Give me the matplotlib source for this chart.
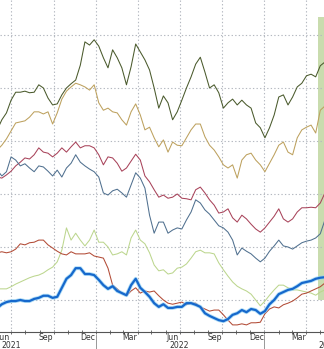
import pandas as pd
import numpy as np
import matplotlib
matplotlib.use("Agg")
import matplotlib.pyplot as plt
import matplotlib.dates as mdates

# datos leidos a ojo del grafico (un punto cada 10 dias)
dates = pd.date_range("2021-06-01", periods=72, freq="10D")

olive = [32.1, 34.0, 35.3, 37.7, 39.2, 39.2, 39.4, 39.1, 39.2, 40.6, 40.0, 38.1,
         36.8, 37.0, 38.7, 40.0, 40.8, 41.5, 44.3, 48.7, 48.1, 49.1, 47.9, 45.7,
         43.8, 47.2, 45.7, 43.8, 40.6, 44.0, 48.3, 46.8, 45.3, 43.4, 40.0, 36.2,
         38.5, 37.2, 34.0, 35.5, 37.7, 40.0, 42.1, 44.5, 45.8, 43.0, 40.0, 40.6,
         39.1, 36.2, 37.2, 37.9, 36.8, 37.7, 36.8, 36.2, 33.4, 32.5, 30.6, 32.5,
         34.9, 38.3, 38.7, 36.8, 38.3, 40.2, 40.9, 42.3, 42.6, 42.1, 44.2, 44.9]

tan = [28.3, 29.2, 30.4, 31.9, 33.4, 33.6, 33.8, 34.5, 35.5, 35.5, 35.1, 35.5,
       33.2, 35.3, 37.9, 39.4, 40.2, 40.9, 40.6, 40.2, 39.6, 40.6, 37.2, 35.8,
       36.2, 35.5, 35.3, 34.0, 33.0, 35.5, 37.0, 34.9, 32.1, 32.6, 30.6, 28.9,
       30.2, 27.9, 29.8, 29.2, 29.1, 30.6, 32.1, 33.2, 33.2, 30.8, 29.2, 28.3,
       27.0, 25.5, 24.9, 25.5, 23.0, 26.4, 27.4, 27.7, 26.4, 25.5, 24.2, 25.8,
       27.4, 29.2, 29.8, 27.9, 27.4, 30.6, 32.1, 32.6, 33.0, 31.5, 35.8, 36.6]

maroon = [23.2, 23.0, 23.6, 24.3, 25.3, 26.0, 26.8, 26.6, 27.4, 28.7, 27.9, 27.7,
          27.0, 27.7, 28.7, 27.9, 28.9, 29.8, 28.7, 29.1, 29.1, 28.7, 27.4, 25.5,
          27.0, 26.8, 25.8, 24.3, 24.9, 26.2, 27.5, 26.4, 23.4, 22.3, 20.8, 19.4,
          19.8, 19.2, 19.4, 20.0, 19.2, 19.1, 18.9, 20.8, 21.3, 20.2, 18.9, 17.9,
          16.4, 16.6, 17.2, 15.5, 14.7, 16.0, 15.3, 14.3, 13.4, 12.8, 13.6, 14.7,
          15.8, 17.2, 15.3, 14.7, 15.3, 16.6, 17.4, 17.4, 17.5, 17.4, 18.3, 20.2]

slate = [24.5, 23.4, 24.2, 27.0, 26.4, 25.3, 25.7, 24.9, 24.2, 25.3, 25.1, 24.3,
         23.4, 24.5, 23.2, 24.9, 25.8, 27.4, 26.0, 25.3, 24.7, 24.2, 23.2, 20.2,
         19.8, 20.6, 20.9, 20.2, 19.4, 21.7, 24.0, 23.0, 21.1, 16.0, 12.6, 14.7,
         14.7, 12.6, 13.2, 13.6, 13.4, 15.1, 16.6, 18.9, 18.3, 17.0, 16.2, 15.1,
         14.0, 13.6, 12.8, 11.3, 8.5, 9.8, 9.2, 8.7, 7.9, 7.2, 7.9, 9.2,
         10.2, 11.3, 10.2, 10.0, 9.6, 10.2, 10.8, 11.1, 11.3, 11.7, 12.5, 15.1]

light_green = [2.1, 2.1, 2.1, 2.5, 3.0, 3.4, 3.8, 4.2, 4.5, 4.7, 5.1, 5.7,
               6.2, 7.2, 9.4, 13.6, 11.3, 12.6, 11.3, 10.2, 11.3, 13.2, 10.9, 10.9,
               10.0, 8.5, 8.7, 9.1, 8.5, 11.7, 13.2, 11.3, 10.6, 8.9, 6.6, 5.5,
               5.7, 4.9, 5.1, 6.0, 6.2, 6.8, 7.9, 9.1, 9.4, 8.9, 8.9, 8.7,
               7.0, 5.7, 4.5, 3.4, 2.6, 2.1, 1.7, 1.1, 0.0, -1.1, -0.2, 0.9,
               1.9, 2.8, 2.8, 2.3, 1.9, 1.9, 1.7, 1.5, 1.3, 0.9, 1.5, 1.9]

brown = [8.9, 9.1, 8.9, 9.1, 9.6, 10.6, 10.4, 10.8, 10.9, 11.3, 11.3, 10.4,
         9.8, 9.2, 8.7, 8.5, 9.1, 8.7, 8.7, 8.7, 8.9, 8.3, 8.1, 7.9,
         6.0, 2.8, 2.1, 1.3, 0.8, 1.7, 2.3, 1.3, 1.7, 1.5, 1.7, 0.8,
         0.0, -0.6, -0.8, -0.6, -0.4, -0.9, -0.6, -0.6, -1.3, -1.7, -2.1, -1.9,
         -1.9, -2.8, -3.8, -4.7, -4.7, -4.5, -4.7, -4.3, -4.3, -4.2, -2.6, -1.7,
         -1.3, -1.5, -0.9, -0.6, -0.2, 0.4, 1.1, 1.3, 1.7, 2.1, 2.5, 3.2]

blue = [-1.5, -0.8, -0.4, -0.2, -0.2, 0.0, -0.2, -0.2, 0.2, 0.4, 0.8, 0.8,
        0.4, 0.6, 2.3, 4.0, 4.7, 6.0, 6.0, 4.9, 4.9, 4.7, 3.8, 2.8,
        2.1, 2.6, 1.7, 1.3, 0.9, 2.8, 4.0, 2.3, 1.5, 0.6, -0.6, -1.3,
        -0.8, -1.5, -1.5, -1.3, -1.3, -0.6, -0.6, -0.9, -1.3, -2.5, -3.0, -3.4,
        -3.8, -4.0, -3.6, -2.8, -2.5, -1.9, -2.3, -1.7, -1.9, -2.6, -2.1, -0.8,
        0.0, 1.1, 1.5, 1.9, 2.1, 2.6, 3.2, 3.4, 3.6, 4.0, 4.2, 4.3]

band_start = "2023-04-26"
year_labels = ["2021", "2022", "2023"]
year_pos = ["2021-07-01", "2022-07-01", "2023-05-19"]

# FIGURA
fig = plt.figure(figsize=(3.24, 3.49), dpi=100)
ax = fig.add_axes([0, 17 / 349, 1, 332 / 349])

ax.axvspan(pd.Timestamp(band_start), pd.Timestamp("2023-06-30"),
           ymin=0.096, ymax=0.949, color="#c9dcae", lw=0, zorder=1)

thin = 0.75
ax.plot(dates, olive, color="#4a5a2c", lw=thin, zorder=3)
ax.plot(dates, tan, color="#bda15e", lw=thin, zorder=3)
ax.plot(dates, maroon, color="#a8435a", lw=thin, zorder=3)
ax.plot(dates, slate, color="#50708f", lw=thin, zorder=3)
ax.plot(dates, light_green, color="#bcd68e", lw=thin, zorder=3)
ax.plot(dates, brown, color="#b24b36", lw=thin, zorder=3)
ax.plot(dates, blue, color="#8fd0f4", lw=2.8, alpha=0.7, zorder=4)
ax.plot(dates, blue, color="#1668cc", lw=1.6, zorder=5)

ax.set_xlim(pd.Timestamp("2021-06-07"), pd.Timestamp("2023-05-10"))
ax.set_ylim(-6.04, 56.6)

# rejilla
ax.set_yticks(np.arange(0, 60, 10))
ax.yaxis.grid(True, color="#b4b8c0", linestyle=(0, (1.2, 2)), lw=0.8)
ax.tick_params(axis="y", left=False, labelleft=False)
for d in pd.date_range("2021-07-01", "2023-04-01", freq="QS"):
    ax.axvline(d, color="#b4b8c0", linestyle=(0, (1.2, 2)), lw=0.8, zorder=2)

# eje x
ax.xaxis.set_major_locator(mdates.MonthLocator(bymonth=(3, 6, 9, 12), bymonthday=15))
ax.xaxis.set_major_formatter(mdates.DateFormatter("%b"))
ax.xaxis.set_minor_locator(mdates.MonthLocator())
ax.tick_params(axis="x", which="major", length=0, pad=0.4, labelsize=5.6, labelcolor="#333333")
ax.tick_params(axis="x", which="minor", length=3, direction="inout", width=0.6, color="#555555")

for s in ["top", "left", "right"]:
    ax.spines[s].set_visible(False)
ax.spines["bottom"].set_color("#555555")
ax.spines["bottom"].set_linewidth(0.8)

tr = ax.get_xaxis_transform()
for lab, pos in zip(year_labels, year_pos):
    ax.text(pd.Timestamp(pos), -0.0405, lab, transform=tr, ha="center", va="center",
            fontsize=5.6, color="#333333", clip_on=False)
for d in ["2022-01-01", "2023-01-01"]:
    ax.plot([pd.Timestamp(d)] * 2, [-0.009, -0.06], transform=tr, color="#888888",
            lw=0.6, clip_on=False)

plt.savefig("out.png", dpi=100)
